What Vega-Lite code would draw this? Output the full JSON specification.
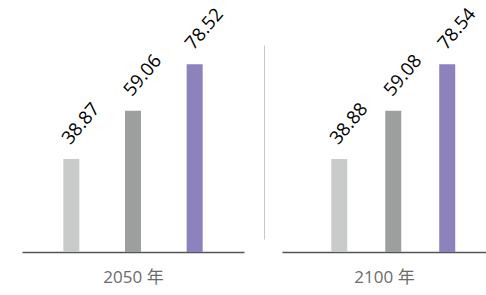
{
  "$schema": "https://vega.github.io/schema/vega-lite/v6.json",
  "padding": {"left": 22, "top": 4, "right": 0, "bottom": 10},
  "background": "white",
  "bounds": "flush",
  "spacing": 38,
  "config": {"view": {"stroke": null}, "font": "'Open Sans', 'Noto Sans CJK SC', sans-serif"},
  "data": {"values": [
    {"year": "2050 年", "cat": "A", "value": 38.87},
    {"year": "2050 年", "cat": "B", "value": 59.06},
    {"year": "2050 年", "cat": "C", "value": 78.52},
    {"year": "2100 年", "cat": "A", "value": 38.88},
    {"year": "2100 年", "cat": "B", "value": 59.08},
    {"year": "2100 年", "cat": "C", "value": 78.54}
  ]},
  "resolve": {"scale": {"x": "independent", "y": "independent"}},
  "hconcat": [
    {
      "width": 222,
      "height": 194,
      "transform": [{"filter": "datum.year == '2050 年'"}],
      "encoding": {
        "x": {"field": "cat", "type": "nominal", "scale": {"paddingInner": 0, "paddingOuter": 0.3},
          "axis": {"title": "2050 年", "labels": false, "ticks": false, "domainColor": "#555555", "domainWidth": 1.5, "offset": 13, "titlePadding": 17, "titleFontSize": 17, "titleColor": "#6b6b6b", "titleFontWeight": "normal"}},
        "y": {"field": "value", "type": "quantitative", "scale": {"domain": [5.44, 86.61], "zero": false, "nice": false}, "axis": null}
      },
      "layer": [
        {"mark": {"type": "bar", "width": 16},
         "encoding": {"y2": {"datum": 0},
           "color": {"field": "cat", "type": "nominal", "scale": {"domain": ["A", "B", "C"], "range": ["#c9cbca", "#9d9f9e", "#8d82bb"]}, "legend": null}}},
        {"mark": {"type": "text", "angle": 310, "align": "left", "baseline": "alphabetic", "dx": 9.7, "dy": -9.5, "fontSize": 18.5, "color": "#000000"},
         "encoding": {"text": {"field": "value", "type": "quantitative", "format": ".2f"}}}
      ]
    },
    {
      "width": 204,
      "height": 194,
      "transform": [{"filter": "datum.year == '2100 年'"}],
      "encoding": {
        "x": {"field": "cat", "type": "nominal", "scale": {"paddingInner": 0, "paddingOuter": 0.39, "align": 0.72},
          "axis": {"title": "2100 年", "labels": false, "ticks": false, "domainColor": "#555555", "domainWidth": 1.5, "offset": 13, "titlePadding": 17, "titleFontSize": 17, "titleColor": "#6b6b6b", "titleFontWeight": "normal"}},
        "y": {"field": "value", "type": "quantitative", "scale": {"domain": [5.44, 86.61], "zero": false, "nice": false},
          "axis": {"orient": "left", "offset": 18, "domain": true, "domainColor": "#c8c8c8", "domainWidth": 1, "ticks": false, "labels": false, "grid": false, "title": null}}
      },
      "layer": [
        {"mark": {"type": "bar", "width": 16},
         "encoding": {"y2": {"datum": 0},
           "color": {"field": "cat", "type": "nominal", "scale": {"domain": ["A", "B", "C"], "range": ["#c9cbca", "#9d9f9e", "#8d82bb"]}, "legend": null}}},
        {"mark": {"type": "text", "angle": 310, "align": "left", "baseline": "alphabetic", "dx": 9.7, "dy": -9.5, "fontSize": 18.5, "color": "#000000"},
         "encoding": {"text": {"field": "value", "type": "quantitative", "format": ".2f"}}}
      ]
    }
  ]
}
